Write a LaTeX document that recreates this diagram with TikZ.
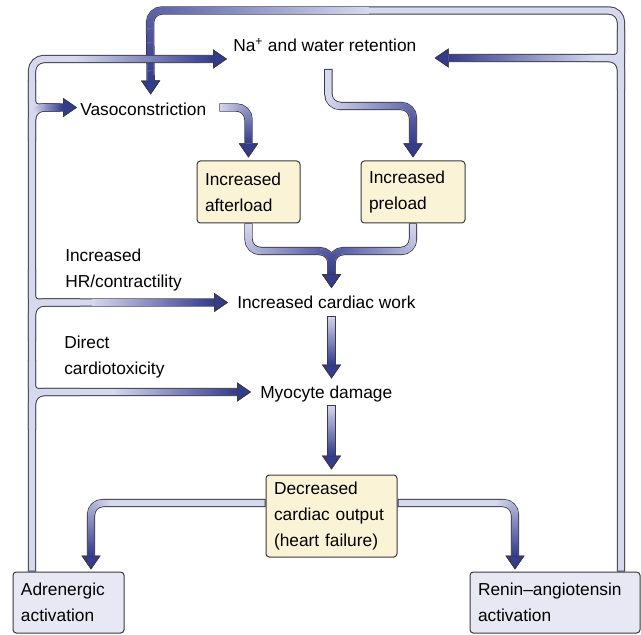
\documentclass[tikz,border=0pt]{standalone}
\usepackage{fontspec}
\setmainfont{Liberation Sans}
\usetikzlibrary{arrows.meta, calc, decorations.markings}

\definecolor{tubeedge}{HTML}{3A3A48}
\definecolor{tubepale}{HTML}{D6D8EE}
\definecolor{tubedark}{HTML}{343C8E}
\definecolor{cream}{HTML}{FBF3D6}
\definecolor{lilac}{HTML}{E8E8F4}
\definecolor{boxedge}{HTML}{3A3A3A}

% one slice of a shaded tube, #1 = fraction of the tube where the shading starts
\newcommand\tubemark[1]{%
  \pgfmathsetmacro\tubemix{100*(\pgfkeysvalueof{/pgf/decoration/mark info/distance from start}/(\pgfdecoratedpathlength-10.5)-#1)/(1-#1)}%
  \ifdim\tubemix pt>0pt
    \ifdim\tubemix pt>100pt \def\tubemix{100}\fi
    \fill[tubedark!\tubemix!tubepale, sharp corners] (-.5pt,-2.4pt) rectangle (.5pt,2.4pt);
  \fi}

% every tube is drawn three times: outline, core, shading
\newcommand\threepass[1]{%
  \begin{scope}[edgepass]#1\end{scope}
  \begin{scope}[corepass]#1\end{scope}
  \begin{scope}[shadepass]#1\end{scope}}

\newcommand\rightflow{%
  \draw[tube=0.74, tip] (ren.north -| rx) |- (150,10.5) -- ($(vaso.north)+(7.5,-8)$);
  \draw[tube=0.26, tip] (621,90) |- ($(na.east)+(18,12.5)$);
  \draw[stub] (621,30) |- (590,58);}

\newcommand\leftflow{%
  \draw[tube=0.8, tip] (adr.north -| lx) |- ($(na.west)+(-6,13.5)$);
  \draw[tube=0.5, tip] (32,140) |- ($(vaso.west)+(-3,-1.5)$);
  \draw[stub] (32,80) |- (60,107.5);
  \draw[tube=0.43, tip] (32,340) |- ($(work.west)+(-9,0)$);
  \draw[stub] (32,270) |- (80,302.5);
  \draw[tube=0.48, tip] (32,430) |- ($(myo.west)+(-9,0)$);
  \draw[stub] (32,360) |- (80,392);}

\newcommand\midflow{%
  \draw[tube=0, tip] ($(vaso.east)+(13,-1.5)$) -| ($(after.north)+(0,-3)$);
  \draw[tube=0.2, tip] ($(na.south)+(3.5,17)$) -- ++(0,37) -| ($(pre.north)+(0,-3)$);
  \draw[tube=0, tip] (after.south) |- ($(work.north -| dco.north)+(0,-45)$) -- ($(work.north -| dco.north)+(0,-8)$);
  \draw[tube=0, tip] (pre.south) |- ($(work.north -| dco.north)+(0,-45)$) -- ($(work.north -| dco.north)+(0,-8)$);
  \draw[tube=0, tip] ($(work.south -| dco.north)+(0,7)$) -- ($(myo.north -| dco.north)+(0,-7)$);
  \draw[tube=0, tip] ($(myo.south -| dco.north)+(0,7)$) -- ($(dco.north)+(0,-5)$);
  \draw[tube=0.7, tip] ($(dco.west)+(0,-13)$) -| ($(adr.north)+(22.5,-2)$);
  \draw[tube=0.6, tip] ($(dco.east)+(0,-13)$) -| ($(ren.north)+(-40,-2)$);}

\begin{document}
\begin{tikzpicture}[x=0.75pt, y=-0.75pt,
  font=\fontsize{13}{19.5}\selectfont,
  lbl/.style={inner sep=0pt, anchor=west, text height=9.3pt, text depth=0pt},
  note/.style={inner sep=0pt, anchor=north west, align=left},
  box/.style={draw=boxedge, line width=0.75pt, fill=#1, rounded corners=2.5pt, inner xsep=6pt, align=left},
  tip/.style={-{Triangle[length=10.5pt, width=14.25pt, line width=0.75pt, color=tubeedge, fill=tubedark]}},
  edgepass/.style={tube/.style={draw=tubeedge, line width=6.3pt, rounded corners=9pt},
    stub/.style={tube, rounded corners=4pt}},
  corepass/.style={tube/.style={draw=tubepale, line width=4.8pt, rounded corners=9pt, shorten <=0.75pt},
    stub/.style={tube, rounded corners=4pt}},
  shadepass/.style={tube/.style={draw=none, rounded corners=9pt, decorate, decoration={markings,
      mark=between positions 1pt and -10.5pt step 0.7pt with {\tubemark{##1}}}},
    stub/.style={draw=none}}]
  \useasboundingbox (0,0) rectangle (641,634);

  \node[lbl] (na) at (233,45.5) {Na\textsuperscript{+} and water retention};
  \node[lbl] (vaso) at (80,109) {Vasoconstriction};
  \node[box=cream, minimum width=77.25pt, minimum height=46.5pt, text width=65.25pt] (after) at (248.5,192) {Increased\\afterload};
  \node[box=cream, minimum width=78pt, minimum height=46.5pt, text width=66pt] (pre) at (413,192) {Increased\\preload};
  \node[lbl] (work) at (237,302.5) {Increased cardiac work};
  \node[lbl] (myo) at (260,392) {Myocyte damage};
  \node[note] (hrlab) at (65,248.6) {Increased\\HR/contractility};
  \node[note] (dclab) at (64,335.6) {Direct\\cardiotoxicity};
  \node[box=cream, minimum width=98.25pt, minimum height=61.5pt, text width=86.25pt] (dco) at (331.5,516) {Decreased\\cardiac output\\(heart failure)};
  \node[box=lilac, minimum width=83.25pt, minimum height=45.75pt, text width=71.25pt] (adr) at (68.5,602.5) {Adrenergic\\activation};
  \node[box=lilac, minimum width=127.5pt, minimum height=45.75pt, text width=115.5pt] (ren) at (555,602.5) {Renin–angiotensin\\activation};
  \coordinate (lx) at (32,0);
  \coordinate (rx) at (621,0);

  \threepass{\rightflow}
  \threepass{\leftflow}
  \threepass{\midflow}
\end{tikzpicture}
\end{document}
